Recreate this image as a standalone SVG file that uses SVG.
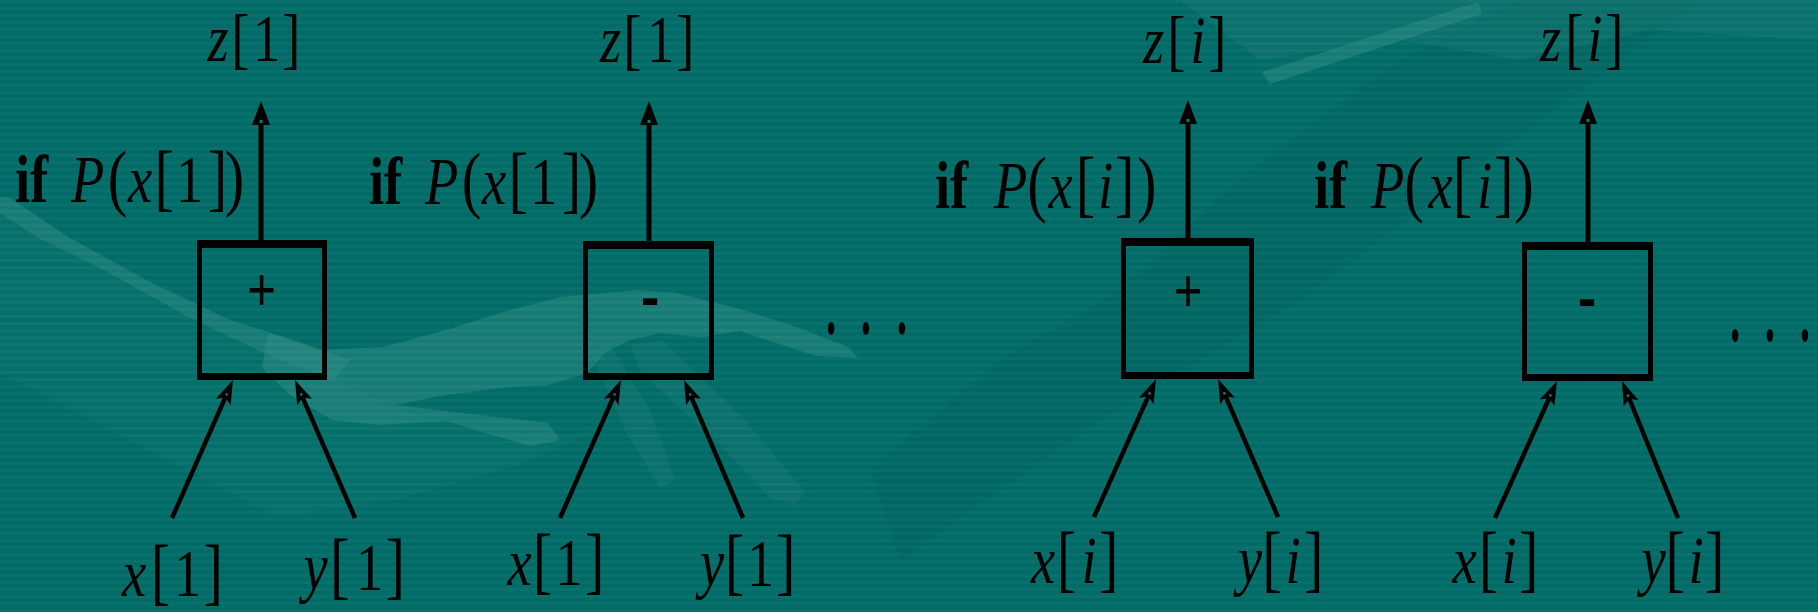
<svg xmlns="http://www.w3.org/2000/svg" width="1818" height="612" viewBox="0 0 1818 612">
  <style>
    .bg-base { fill: #006b67; }
    .bg-light { fill: #2c8a84; fill-opacity: 0.55; }
    .bg-soft { fill: #2c8a84; fill-opacity: 0.22; }
    .bg-faint { fill: #2c8a84; fill-opacity: 0.12; }
    .bg-dark { fill: #004c49; fill-opacity: 0.12; }
    .box { fill: #000; fill-rule: evenodd; }
    .wire { stroke: #000; stroke-width: 4.5; fill: none; }
    .out { stroke-width: 5; marker-end: url(#head-out); }
    .in { marker-end: url(#head-in); }
    .m { font-family: "Liberation Serif", "Times New Roman", serif; font-size: 68px; fill: #000; }
    .d { font-size: 73px; }
    .it { font-style: italic; }
    .bf { font-weight: bold; }
    .plus { font-family: "Liberation Serif", "Times New Roman", serif; font-weight: bold; font-size: 64px; fill: #000; }
    .minus { font-family: "Liberation Sans", Arial, sans-serif; font-weight: bold; font-size: 56px; fill: #000; }
    .dots { font-family: "Liberation Serif", "Times New Roman", serif; font-size: 110px; fill: #000; }
  </style>
  <defs>
    <pattern id="scan" width="16" height="7" patternUnits="userSpaceOnUse">
      <rect width="16" height="3" fill="#ffffff" fill-opacity="0.035"/>
    </pattern>
    <!-- output arrowhead: tip 17 ahead of the line end -->
    <marker id="head-out" viewBox="-10 -12 30 24" markerWidth="30" markerHeight="24" refX="0" refY="0" orient="auto" markerUnits="userSpaceOnUse">
      <path d="M17,0 L-7,-9 L-7,9 Z" fill="#000"/>
      <rect x="-5" y="-1.5" width="3" height="3" fill="#0a7a75"/>
    </marker>
    <!-- input arrowhead: tip 14 ahead of the line end -->
    <marker id="head-in" viewBox="-12 -10 28 20" markerWidth="28" markerHeight="20" refX="0" refY="0" orient="auto" markerUnits="userSpaceOnUse">
      <path d="M14,0 L-10,-8 L-5,0 L-10,8 Z" fill="#000"/>
      <rect x="-3" y="-1.2" width="2.4" height="2.4" fill="#0a7a75"/>
    </marker>
  </defs>

  <!-- background artwork -->
  <g id="background">
    <rect class="bg-base" width="1818" height="612"/>
    <path class="bg-dark" d="M870,470 L1000,360 L1120,290 L1250,170 L1400,60 L1520,0 L1700,0 L1500,150 L1300,300 L1100,420 L900,560 Z"/>
    <path class="bg-faint" d="M0,213 L38,238 L100,268 L190,318 L270,356 L335,380 L400,410 L520,440 L600,430 L514,467 L395,500 L277,517 L0,373 Z"/>
    <path class="bg-light" d="M0,197 L10,198 L70,238 L150,282 L230,320 L300,342 L350,360 L335,380 L270,356 L190,318 L100,268 L38,238 L0,213 Z"/>
    <path class="bg-light" d="M268,333 L319,350 L383,347 L446,330 L510,310 L561,297 L638,290 L676,293 L733,307 L797,327 L848,347 L858,358 L816,356 L740,331 L701,337 L660,333 L630,340 L606,352 L587,373 L548,385 L510,387 L446,395 L395,405 L548,423 L560,440 L530,446 L446,421 L380,425 L332,420 L290,395 L262,368 Z"/>
    <path class="bg-soft" d="M630,345 L662,340 L745,420 L805,492 L795,505 L770,498 L715,440 L640,372 Z"/>
    <path class="bg-soft" d="M590,352 L610,345 L650,410 L675,480 L660,488 L625,430 Z"/>
    <path class="bg-light" d="M1262,72 L1478,2 L1482,14 L1270,84 Z"/>
    <path class="bg-soft" d="M1180,0 L1818,0 L1818,40 L1650,30 L1520,60 L1400,40 L1260,60 Z"/>
    <rect width="1818" height="612" fill="url(#scan)"/>
  </g>

  <!-- connectors -->
  <g id="connectors">
    <line class="wire out" x1="261" y1="240" x2="261" y2="118"/>
    <line class="wire out" x1="649" y1="241" x2="649" y2="118"/>
    <line class="wire out" x1="1188" y1="238" x2="1188" y2="117"/>
    <line class="wire out" x1="1588" y1="242" x2="1588" y2="117"/>

    <line class="wire in" x1="172" y1="518" x2="227.3" y2="392.8"/>
    <line class="wire in" x1="355" y1="518" x2="300.6" y2="392.8"/>
    <line class="wire in" x1="560" y1="518" x2="615.3" y2="392.8"/>
    <line class="wire in" x1="743" y1="518" x2="689.5" y2="392.8"/>
    <line class="wire in" x1="1094" y1="517" x2="1150.3" y2="391.8"/>
    <line class="wire in" x1="1278" y1="517" x2="1223.6" y2="391.8"/>
    <line class="wire in" x1="1495" y1="518" x2="1551.2" y2="393.7"/>
    <line class="wire in" x1="1678" y1="518" x2="1627.3" y2="394"/>
  </g>

  <!-- operator boxes -->
  <g id="op-add-1">
    <path class="box" d="M197,240H327V380H197Z M202,248H322V373H202Z"/>
    <text class="plus" text-anchor="middle" transform="translate(261.7,311) scale(0.8,1)">+</text>
  </g>
  <g id="op-sub-1">
    <path class="box" d="M583,241H714V380H583Z M588,249H709V373H588Z"/>
    <text class="minus" text-anchor="middle" x="650" y="316">-</text>
  </g>
  <g id="op-add-i">
    <path class="box" d="M1121,238H1254V379H1121Z M1126,246H1249V372H1126Z"/>
    <text class="plus" text-anchor="middle" transform="translate(1188,311.5) scale(0.8,1)">+</text>
  </g>
  <g id="op-sub-i">
    <path class="box" d="M1522,242H1653V381H1522Z M1527,250H1648V374H1527Z"/>
    <text class="minus" text-anchor="middle" x="1587" y="317">-</text>
  </g>

  <!-- outputs -->
  <g id="out-z1-a">
    <text class="m" transform="translate(207.6,61) scale(0.8,1)"><tspan class="it">z</tspan><tspan x="29.5">[</tspan><tspan x="56.75">1</tspan><tspan x="93.25">]</tspan></text>
  </g>
  <g id="out-z1-b">
    <text class="m" transform="translate(600,62) scale(0.8,1)"><tspan class="it">z</tspan><tspan x="29">[</tspan><tspan x="58.75">1</tspan><tspan x="95.25">]</tspan></text>
  </g>
  <g id="out-zi-a">
    <text class="m" transform="translate(1143,63) scale(0.8,1)"><tspan class="it">z</tspan><tspan x="30.25">[</tspan><tspan class="it" x="59">i</tspan><tspan x="81.5">]</tspan></text>
  </g>
  <g id="out-zi-b">
    <text class="m" transform="translate(1540,61) scale(0.8,1)"><tspan class="it">z</tspan><tspan x="31.5">[</tspan><tspan class="it" x="59">i</tspan><tspan x="81.5">]</tspan></text>
  </g>

  <!-- conditions -->
  <g id="cond-1-a">
    <text class="m" transform="translate(15,202) scale(0.8,1)"><tspan class="bf">if </tspan><tspan class="it" x="70">P</tspan><tspan class="d" x="116">(</tspan><tspan class="it" x="141.25">x</tspan><tspan class="d" x="174.5">[</tspan><tspan x="201.25">1</tspan><tspan class="d" x="241">]</tspan><tspan class="d" x="262.25">)</tspan></text>
  </g>
  <g id="cond-1-b">
    <text class="m" transform="translate(369,204) scale(0.8,1)"><tspan class="bf">if </tspan><tspan class="it" x="70">P</tspan><tspan class="d" x="116">(</tspan><tspan class="it" x="141.25">x</tspan><tspan class="d" x="174.5">[</tspan><tspan x="201.25">1</tspan><tspan class="d" x="241">]</tspan><tspan class="d" x="262.25">)</tspan></text>
  </g>
  <g id="cond-i-a">
    <text class="m" transform="translate(935,208) scale(0.8,1)"><tspan class="bf">if </tspan><tspan class="it" x="73.75">P</tspan><tspan class="d" x="115.25">(</tspan><tspan class="it" x="142">x</tspan><tspan class="d" x="176">[</tspan><tspan class="it" x="203.75">i</tspan><tspan class="d" x="225">]</tspan><tspan class="d" x="252.5">)</tspan></text>
  </g>
  <g id="cond-i-b">
    <text class="m" transform="translate(1314,208) scale(0.8,1)"><tspan class="bf">if </tspan><tspan class="it" x="71.25">P</tspan><tspan class="d" x="112.75">(</tspan><tspan class="it" x="143.25">x</tspan><tspan class="d" x="173.5">[</tspan><tspan class="it" x="203.75">i</tspan><tspan class="d" x="225">]</tspan><tspan class="d" x="250.25">)</tspan></text>
  </g>

  <!-- inputs -->
  <g id="in-x1-a">
    <text class="m" transform="translate(122,596) scale(0.8,1)"><tspan class="it">x</tspan><tspan class="d" x="36">[</tspan><tspan x="65">1</tspan><tspan class="d" x="102">]</tspan></text>
  </g>
  <g id="in-y1-a">
    <text class="m" transform="translate(303.5,590) scale(0.8,1)"><tspan class="it">y</tspan><tspan class="d" x="33">[</tspan><tspan x="65.6">1</tspan><tspan class="d" x="102.5">]</tspan></text>
  </g>
  <g id="in-x1-b">
    <text class="m" transform="translate(507.6,585) scale(0.8,1)"><tspan class="it">x</tspan><tspan class="d" x="31.5">[</tspan><tspan x="59.9">1</tspan><tspan class="d" x="96.75">]</tspan></text>
  </g>
  <g id="in-y1-b">
    <text class="m" transform="translate(700,586) scale(0.8,1)"><tspan class="it">y</tspan><tspan class="d" x="31">[</tspan><tspan x="58.75">1</tspan><tspan class="d" x="95">]</tspan></text>
  </g>
  <g id="in-xi-a">
    <text class="m" transform="translate(1031,583) scale(0.8,1)"><tspan class="it">x</tspan><tspan class="d" x="32.25">[</tspan><tspan class="it" x="63.1">i</tspan><tspan class="d" x="85">]</tspan></text>
  </g>
  <g id="in-yi-a">
    <text class="m" transform="translate(1238,583) scale(0.8,1)"><tspan class="it">y</tspan><tspan class="d" x="30.4">[</tspan><tspan class="it" x="59.4">i</tspan><tspan class="d" x="82.5">]</tspan></text>
  </g>
  <g id="in-xi-b">
    <text class="m" transform="translate(1452.6,583) scale(0.8,1)"><tspan class="it">x</tspan><tspan class="d" x="32.75">[</tspan><tspan class="it" x="61.1">i</tspan><tspan class="d" x="83">]</tspan></text>
  </g>
  <g id="in-yi-b">
    <text class="m" transform="translate(1641.6,583) scale(0.8,1)"><tspan class="it">y</tspan><tspan class="d" x="29.9">[</tspan><tspan class="it" x="58.6">i</tspan><tspan class="d" x="79.25">]</tspan></text>
  </g>

  <!-- continuation marks -->
  <g id="more-1">
    <text class="dots" text-anchor="middle" transform="translate(866,333) scale(0.5,1)"><tspan x="-70">.</tspan><tspan x="0">.</tspan><tspan x="72">.</tspan></text>
  </g>
  <g id="more-2">
    <text class="dots" text-anchor="middle" transform="translate(1770,340) scale(0.5,1)"><tspan x="-70">.</tspan><tspan x="0">.</tspan><tspan x="70">.</tspan></text>
  </g>
</svg>
